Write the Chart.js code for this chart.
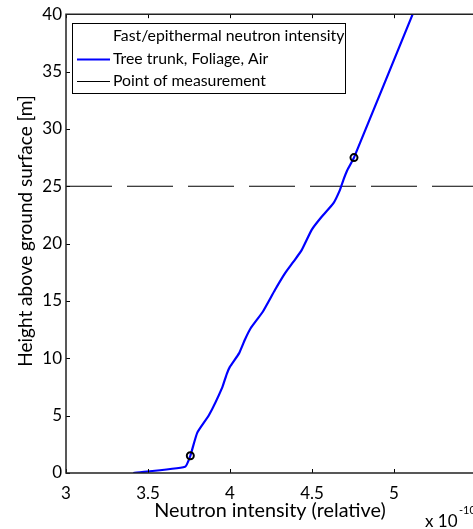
<!DOCTYPE html>
<html>
<head>
<meta charset="utf-8">
<script src="https://cdn.jsdelivr.net/npm/chart.js@4.4.1/dist/chart.umd.min.js"></script>
<style>
  html, body { margin: 0; padding: 0; background: #fff; overflow: hidden; }
  #wrap { width: 486px; height: 529px; }
</style>
</head>
<body>
<div id="wrap"><canvas id="grafico" width="486" height="529"></canvas></div>
<script>
// perfil de intensidad de neutrones rapidos/epitermales con la altura
var intensidad = [3.41, 3.726, 3.758, 3.80, 3.872, 3.953, 3.98, 4.0, 4.055, 4.09, 4.125, 4.20, 4.274,
                  4.335, 4.386, 4.437, 4.498, 4.559, 4.63, 4.67, 4.69, 4.715, 4.756, 5.114];
var altura = [0, 0.55, 1.5, 3.5, 5.05, 7.47, 8.63, 9.27, 10.43, 11.6, 12.6, 14.06, 15.95,
              17.4, 18.4, 19.43, 21.2, 22.34, 23.5, 24.66, 25.5, 26.4, 27.5, 40];

// puntos de medida (circulos)
var medidaX = [3.758, 4.756];
var medidaY = [1.5, 27.5];

// linea horizontal discontinua
var limiteX = [3, 5.5];
var limiteY = [25, 25];

var xTicks = [3, 3.5, 4, 4.5, 5, 5.5];
var yTicks = [0, 5, 10, 15, 20, 25, 30, 35, 40];

var leyenda = ["Fast/epithermal neutron intensity", "Tree trunk, Foliage, Air", "Point of measurement"];

var fuente = "Lato, 'DejaVu Sans', sans-serif";

function pares(xs, ys) {
  return xs.map(function (v, i) { return { x: v, y: ys[i] }; });
}

// marcas hacia dentro, ejes, leyenda y textos sueltos
var extras = {
  id: 'extras',
  afterDraw: function (chart) {
    var ctx = chart.ctx;
    var a = chart.chartArea;
    var sx = chart.scales.x, sy = chart.scales.y;
    ctx.save();
    ctx.strokeStyle = '#000';
    ctx.lineWidth = 1;
    ctx.beginPath();
    xTicks.forEach(function (t) {
      var px = Math.round(sx.getPixelForValue(t)) + 0.5;
      ctx.moveTo(px, a.bottom); ctx.lineTo(px, a.bottom - 4);
      ctx.moveTo(px, a.top); ctx.lineTo(px, a.top + 4);
    });
    yTicks.forEach(function (t) {
      var py = Math.round(sy.getPixelForValue(t)) + 0.5;
      ctx.moveTo(a.left, py); ctx.lineTo(a.left + 4, py);
    });
    ctx.stroke();

    // marco: izquierda, abajo, arriba
    ctx.lineWidth = 1.5;
    ctx.strokeStyle = '#222';
    ctx.beginPath();
    ctx.moveTo(a.right + 10, a.top); ctx.lineTo(a.left, a.top);
    ctx.lineTo(a.left, a.bottom); ctx.lineTo(a.right + 10, a.bottom);
    ctx.stroke();

    // leyenda
    var lx = 72, ly = 23, lw = 273, lh = 70;
    ctx.fillStyle = '#fff';
    ctx.fillRect(lx, ly, lw, lh);
    ctx.lineWidth = 1;
    ctx.strokeStyle = '#000';
    ctx.strokeRect(lx + 0.5, ly + 0.5, lw, lh);
    ctx.fillStyle = '#000';
    ctx.font = '15.8px ' + fuente;
    ctx.textBaseline = 'middle';
    ctx.textAlign = 'left';
    var filas = [36, 59, 81];
    leyenda.forEach(function (txt, i) {
      ctx.fillText(txt, 113, filas[i]);
    });
    ctx.lineWidth = 2;
    ctx.strokeStyle = '#0000ff';
    ctx.beginPath(); ctx.moveTo(77, filas[1] + 0.5); ctx.lineTo(110, filas[1] + 0.5); ctx.stroke();
    ctx.lineWidth = 1;
    ctx.strokeStyle = '#000';
    ctx.beginPath(); ctx.moveTo(77, filas[2] + 0.5); ctx.lineTo(110, filas[2] + 0.5); ctx.stroke();

    // titulos de ejes
    ctx.font = '19.8px ' + fuente;
    ctx.textAlign = 'center';
    ctx.fillText('Neutron intensity (relative)', 270, 511);
    ctx.save();
    ctx.translate(26, 231);
    ctx.rotate(-Math.PI / 2);
    ctx.font = '19px ' + fuente;
    ctx.fillText('Height above ground surface [m]', 0, 0);
    ctx.restore();

    // factor de escala
    ctx.textAlign = 'left';
    ctx.textBaseline = 'alphabetic';
    ctx.font = '17px ' + fuente;
    ctx.fillText('x 10', 425, 527);
    ctx.font = '11px ' + fuente;
    ctx.fillText('-10', 459, 514);
    ctx.restore();
  }
};

var ctx = document.getElementById('grafico').getContext('2d');
var myChart = new Chart(ctx, {
  type: 'scatter',
  data: {
    datasets: [{
      label: leyenda[1],
      data: pares(intensidad, altura),
      showLine: true,
      borderColor: 'rgb(0, 0, 255)',
      borderWidth: 2.2,
      pointRadius: 0,
      tension: 0.15,
      order: 2
    }, {
      label: leyenda[2],
      data: pares(limiteX, limiteY),
      showLine: true,
      borderColor: '#000',
      borderWidth: 1,
      borderDash: [46, 15],
      pointRadius: 0,
      order: 3
    }, {
      label: 'medida',
      data: pares(medidaX, medidaY),
      showLine: false,
      pointRadius: 3.5,
      pointBorderWidth: 2,
      pointBorderColor: '#000',
      pointBackgroundColor: 'rgba(0,0,0,0)',
      order: 1
    }]
  },
  options: {
    responsive: false,
    animation: false,
    layout: { padding: { top: 14, right: 4, left: 0, bottom: 0 } },
    plugins: { legend: { display: false }, tooltip: { enabled: false } },
    scales: {
      x: {
        type: 'linear',
        min: 3, max: 5.5,
        afterBuildTicks: function (s) { s.ticks = xTicks.map(function (v) { return { value: v }; }); },
        afterFit: function (s) { s.height = 56; },
        grid: { display: false, drawTicks: false },
        border: { display: false },
        ticks: {
          padding: 10,
          maxRotation: 0,
          color: '#000',
          font: { family: fuente, size: 17 },
          callback: function (v) { return v === 5.5 ? '' : String(v); }
        }
      },
      y: {
        type: 'linear',
        min: 0, max: 40,
        afterBuildTicks: function (s) { s.ticks = yTicks.map(function (v) { return { value: v }; }); },
        afterFit: function (s) { s.width = 66; },
        grid: { display: false, drawTicks: false },
        border: { display: false },
        ticks: {
          padding: 4,
          color: '#000',
          font: { family: fuente, size: 17 }
        }
      }
    }
  },
  plugins: [extras]
});
</script>
</body>
</html>
